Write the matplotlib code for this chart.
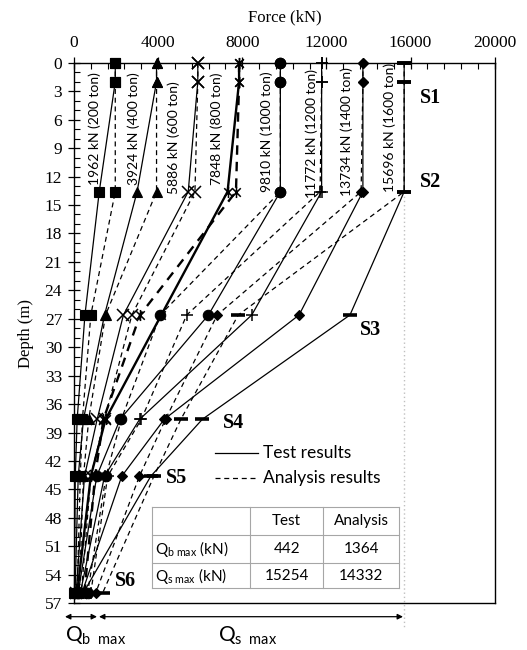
import matplotlib
matplotlib.use('Agg')
import matplotlib.pyplot as plt
from matplotlib.path import Path
from matplotlib.ticker import MultipleLocator
from matplotlib.patches import Rectangle

plt.rcParams['mathtext.fontset'] = 'custom'
plt.rcParams['mathtext.rm'] = 'Lato'
plt.rcParams['mathtext.it'] = 'Lato:italic'
plt.rcParams['font.family'] = ['Liberation Serif', 'DejaVu Sans']

# ---------------- data ----------------
depth = [0, 2, 13.6, 26.6, 37.6, 43.6, 55.9]
loads = [1962, 3924, 5886, 7848, 9810, 11772, 13734, 15696]
load_labels = ['1962 kN (200 ton)', '3924 kN (400 ton)', '5886 kN (600 ton)',
               '7848 kN (800 ton)', '9810 kN (1000 ton)', '11772 kN (1200 ton)',
               '13734 kN (1400 ton)', '15696 kN (1600 ton)']

test_1962 = [1962, 1962, 1200, 520, 150, 60, 20]
test_3924 = [3924, 3924, 3000, 1450, 450, 200, 50]
test_5886 = [5886, 5886, 5430, 2350, 1100, 500, 100]
test_7848 = [7848, 7848, 7300, 4150, 1500, 800, 150]
test_9810 = [9810, 9810, 9810, 6390, 2190, 1080, 200]
test_11772 = [11772, 11772, 11772, 8450, 3120, 1450, 300]
test_13734 = [13734, 13734, 13734, 10700, 4290, 2270, 380]
test_15696 = [15696, 15696, 15696, 13120, 6100, 3650, 442]

ana_1962 = [1962, 1962, 1962, 800, 400, 300, 150]
ana_3924 = [3924, 3924, 3924, 1500, 700, 450, 250]
ana_5886 = [5886, 5886, 5750, 2750, 1450, 800, 350]
ana_7848 = [7848, 7848, 7700, 3140, 1400, 1000, 500]
ana_9810 = [9810, 9810, 9810, 4100, 2250, 1520, 650]
ana_11772 = [11772, 11772, 11700, 5360, 3200, 1600, 800]
ana_13734 = [13734, 13734, 13650, 6810, 4350, 3110, 1032]
ana_15696 = [15696, 15696, 15696, 7810, 5080, 3800, 1364]

test_series = [test_1962, test_3924, test_5886, test_7848,
               test_9810, test_11772, test_13734, test_15696]
ana_series = [ana_1962, ana_3924, ana_5886, ana_7848,
              ana_9810, ana_11772, ana_13734, ana_15696]

label_x = [999, 2822, 4724, 6785, 9163, 11303, 12967, 15026]
label_depth = [12.9, 12.9, 13.8, 12.9, 13.6, 14.3, 14.1, 13.6]

layer_names = ['S1', 'S2', 'S3', 'S4', 'S5', 'S6']
layer_x = [16930, 16930, 14075, 7575, 4884, 2425]
layer_depth = [3.7, 12.6, 28.2, 38.0, 43.8, 54.6]

table_cols = ['Test', 'Analysis']
table_rows = ['Q$_{\\mathrm{b\\ max}}$ (kN)', 'Q$_{\\mathrm{s\\ max}}$ (kN)']
qb_max = [442, 1364]
qs_max = [15254, 14332]

# ---------------- figure ----------------
W, H = 527, 650
fig = plt.figure(figsize=(W / 100, H / 100), dpi=100)
L, R, T, B = 74, 494.7, 62.7, 603.3
ax = fig.add_axes([L / W, 1 - B / H, (R - L) / W, (B - T) / H])

star = Path([(-1, -1), (1, 1), (-1, 1), (1, -1), (0, -1.3), (0, 1.3)],
            [Path.MOVETO, Path.LINETO] * 3)
markers = ['s', '^', 'x', star, 'o', '+', 'D', '_']
msizes = [6.5, 7, 8, 8, 7.5, 9, 5.5, 10]
mews = [0.8, 0.8, 1.1, 1.1, 0.8, 1.1, 0.8, 2.6]

for i, load in enumerate(loads):
    lw = 1.7 if load == 7848 else 0.9
    ax.plot(test_series[i], depth, '-', color='k', lw=lw, marker=markers[i],
            ms=msizes[i], mew=mews[i], mfc='k', mec='k', zorder=3, clip_on=False)
    ax.plot(ana_series[i], depth, color='k', lw=lw, ls=(0, (4, 3)),
            marker=markers[i], ms=msizes[i], mew=mews[i], mfc='k', mec='k',
            zorder=3, clip_on=False)
    ax.text(label_x[i], label_depth[i], load_labels[i], rotation=90,
            ha='center', va='bottom', fontsize=10, family='Lato')

for name, x, d in zip(layer_names, layer_x, layer_depth):
    ax.text(x, d, name, ha='center', va='center', fontsize=14.5,
            fontweight='bold', family='Liberation Serif')

# dotted reference line at max load
ax.plot([loads[-1], loads[-1]], [13.6, 59.5], ls=(0, (1, 2)), color='#c0c0c0',
        lw=1.0, clip_on=False, zorder=1)

ax.set_xlim(0, 20000)
ax.set_ylim(57, 0)
ax.xaxis.tick_top()
ax.xaxis.set_label_position('top')
ax.set_xticks(range(0, 20001, 4000))
ax.xaxis.set_minor_locator(MultipleLocator(800))
ax.set_yticks(range(0, 58, 3))
ax.yaxis.set_minor_locator(MultipleLocator(1))
ax.tick_params(which='major', direction='inout', length=9, width=0.9,
               labelsize=12.5, top=True, bottom=False, left=True, right=False, pad=4)
ax.tick_params(which='minor', direction='in', length=4, width=0.8,
               top=True, bottom=False, left=True, right=False)
ax.set_xlabel('Force (kN)', fontsize=12, labelpad=10)
ax.set_ylabel('Depth (m)', fontsize=12, labelpad=8)
for s in ax.spines.values():
    s.set_linewidth(1.0)

# ---------------- overlay (pixel coordinates) ----------------
ov = fig.add_axes([0, 0, 1, 1], zorder=5)
ov.set_xlim(0, W)
ov.set_ylim(H, 0)
ov.axis('off')
ov.patch.set_alpha(0)

# legend
ov.plot([215, 258], [452.7, 452.7], '-', color='k', lw=0.9)
ov.plot([215, 258], [478.3, 478.3], color='k', lw=0.9, ls=(0, (4, 3)))
ov.text(263, 452.7, 'Test results', ha='left', va='center', fontsize=12.5, family='Lato')
ov.text(263, 478.3, 'Analysis results', ha='left', va='center', fontsize=12.5, family='Lato')

# table
tx = [151.7, 250, 323.3, 399]
ty = [506.7, 535, 562.7, 588.3]
ov.add_patch(Rectangle((tx[0], ty[0]), tx[-1] - tx[0], ty[-1] - ty[0],
                       facecolor='white', edgecolor='none', zorder=1))
for x in tx:
    ov.plot([x, x], [ty[0], ty[-1]], color='#a6a6a6', lw=0.8, zorder=2)
for y in ty:
    ov.plot([tx[0], tx[-1]], [y, y], color='#a6a6a6', lw=0.8, zorder=2)
for j, c in enumerate(table_cols):
    ov.text((tx[j + 1] + tx[j + 2]) / 2, (ty[0] + ty[1]) / 2, c, ha='center',
            va='center', fontsize=11, family='Lato', zorder=3)
row_vals = [qb_max, qs_max]
for r, lab in enumerate(table_rows):
    yc = (ty[r + 1] + ty[r + 2]) / 2
    ov.text(tx[0] + 3, yc, lab, ha='left', va='center', fontsize=11,
            family='Lato', zorder=3)
    for j, v in enumerate(row_vals[r]):
        ov.text((tx[j + 1] + tx[j + 2]) / 2, yc, str(v), ha='center',
                va='center', fontsize=11, family='Lato', zorder=3)

# bottom arrows
ov.annotate('', xy=(65, 616.7), xytext=(97, 616.7),
            arrowprops=dict(arrowstyle='<|-|>', color='k', lw=0.9,
                            shrinkA=0, shrinkB=0, mutation_scale=8))
ov.annotate('', xy=(99, 616.7), xytext=(403, 616.7),
            arrowprops=dict(arrowstyle='<|-|>', color='k', lw=0.9,
                            shrinkA=0, shrinkB=0, mutation_scale=8))
ov.text(96, 636, 'Q$_{\\mathrm{b\\ \\ max}}$', ha='center', va='center',
        fontsize=15, family='Lato')
ov.text(248, 636, 'Q$_{\\mathrm{s\\ \\ max}}$', ha='center', va='center',
        fontsize=15, family='Lato')

fig.savefig('out.png', dpi=100)
